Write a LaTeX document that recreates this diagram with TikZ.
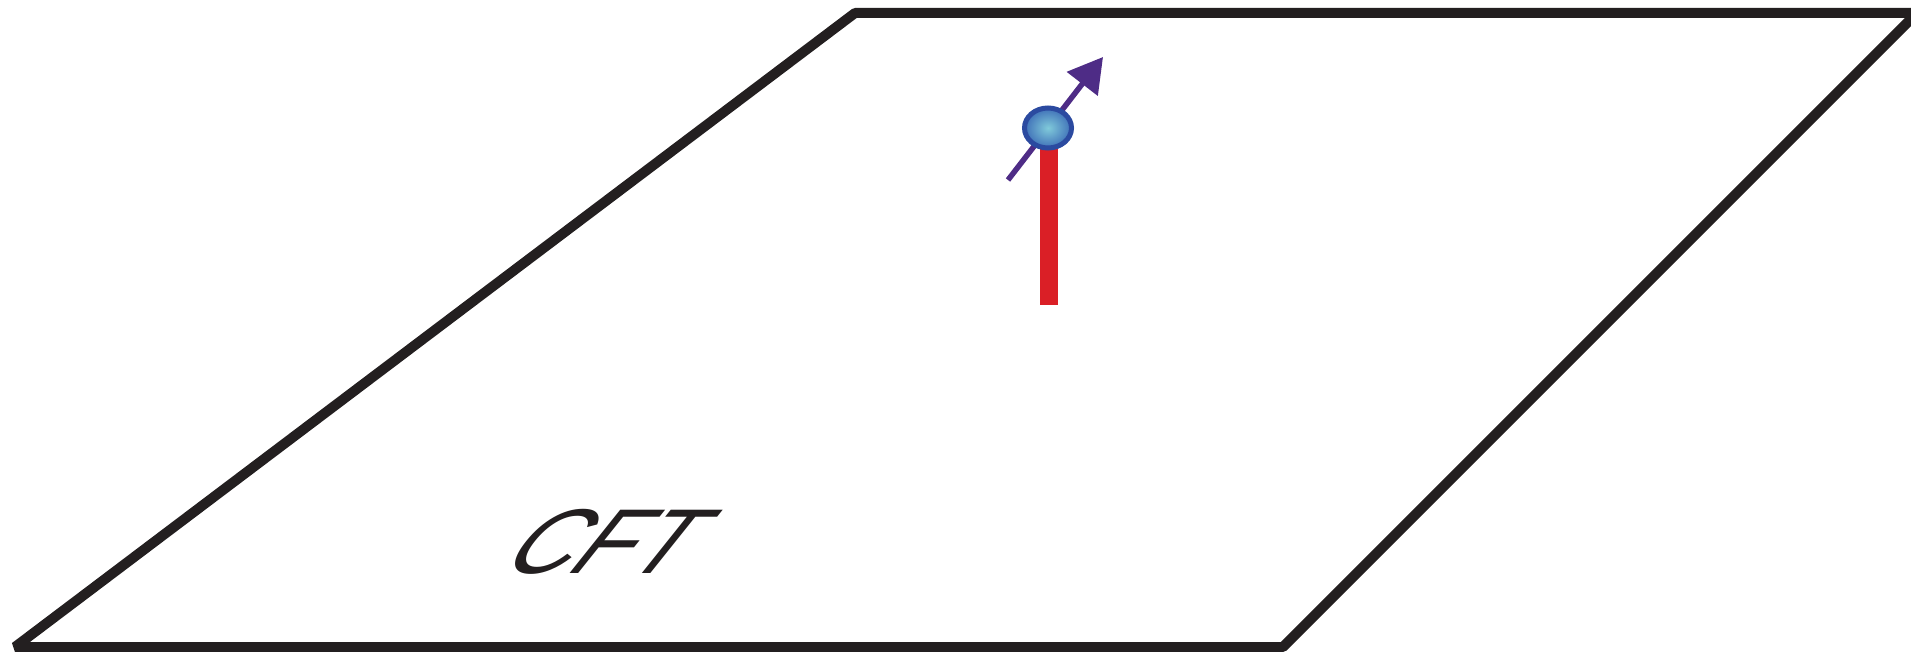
\documentclass[tikz,border=0pt]{standalone}
\usepackage{fontspec}
\newfontfamily\cftfont[FakeSlant=0.8]{Liberation Sans}
\usetikzlibrary{arrows.meta,shapes.geometric}
\definecolor{frame}{HTML}{231F20}
\definecolor{spinpurple}{HTML}{4E2C86}
\definecolor{barred}{HTML}{DA1F26}
\definecolor{ballrim}{HTML}{2B4AA0}
\definecolor{ballin}{HTML}{80CADA}
\definecolor{ballout}{HTML}{3F70B8}
\tikzset{
  plane/.style={draw=frame, line width=10pt, line join=bevel},
  spinarrow/.style={draw=spinpurple, line width=5.5pt, -{Triangle[length=34pt,width=38pt]}},
  stringbar/.style={draw=barred, line width=18pt},
  ballnode/.style={ellipse, minimum width=47pt, minimum height=40pt, inner sep=0pt,
    draw=ballrim, line width=5pt, inner color=ballin, outer color=ballout},
  label/.style={font=\cftfont\fontsize{92}{92}\selectfont, text=frame, inner sep=0pt}
}
\begin{document}
\begin{tikzpicture}[x=1pt,y=-1pt]
\useasboundingbox (0,0) rectangle (1911,652);
\coordinate (bl) at (15,647);
\coordinate (br) at (1283,647);
\coordinate (tr) at (1917,13);
\coordinate (tl) at (855,13);
\draw[plane] (bl) -- (br) -- (tr) -- (tl) -- cycle;
\coordinate (tail) at (1008,180);
\coordinate (tip) at (1103,57);
\coordinate (barend) at (1049,305);
\draw[spinarrow] (tail) -- (tip);
\coordinate (bartop) at (1049,135);
\draw[stringbar] (bartop) -- (barend);
\node[ballnode] (ball) at (1048,128) {};
\node[label, anchor=base west] (cft) at (496,573) {CFT};
\end{tikzpicture}
\end{document}
